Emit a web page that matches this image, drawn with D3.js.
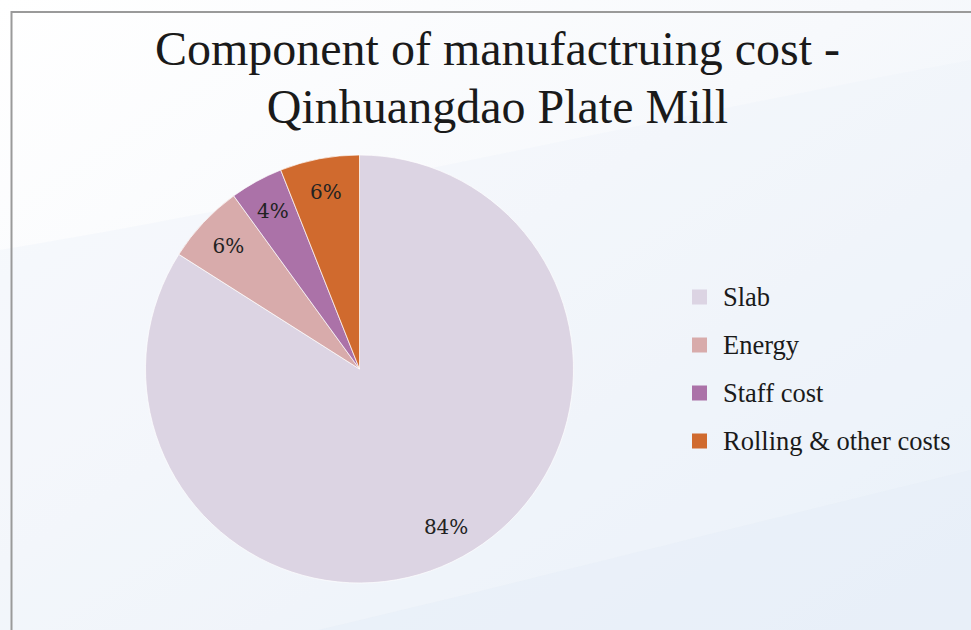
<!DOCTYPE html>
<html>
<head>
<meta charset="utf-8">
<script src="https://cdn.jsdelivr.net/npm/d3@7"></script>
<style>
  body { margin: 0; padding: 0; overflow: hidden; }
</style>
</head>
<body>
<script>
// data
const categories = ["Slab", "Energy", "Staff cost", "Rolling & other costs"];
const shares = [84, 6, 4, 6];
const colours = ["#dcd4e3", "#d8abab", "#ab72a8", "#d06a2e"];
const titleLines = ["Component of manufactruing cost -", "Qinhuangdao Plate Mill"];

const dims = { width: 971, height: 630 };
const cent = { x: 359.5, y: 369 };
const radius = 214;

const svg = d3.select("body").append("svg")
    .attr("width", dims.width)
    .attr("height", dims.height);

// background gradient
const defs = svg.append("defs");
const grad = defs.append("linearGradient")
    .attr("id", "bg")
    .attr("x1", "0%").attr("y1", "0%")
    .attr("x2", "100%").attr("y2", "100%");
grad.append("stop").attr("offset", "0%").attr("stop-color", "#ffffff");
grad.append("stop").attr("offset", "45%").attr("stop-color", "#f7f9fc");
grad.append("stop").attr("offset", "100%").attr("stop-color", "#e8f0f9");

svg.append("rect")
    .attr("width", dims.width).attr("height", dims.height)
    .attr("fill", "url(#bg)");

// soft wave bands
svg.append("path")
    .attr("d", "M0,250 C300,200 650,120 971,60 L971,630 L0,630 Z")
    .attr("fill", "#eef3f9")
    .attr("opacity", 0.4);
svg.append("path")
    .attr("d", "M0,700 C300,640 600,560 971,470 L971,630 L0,630 Z")
    .attr("fill", "#e6eef8")
    .attr("opacity", 0.5);

// frame
svg.append("rect")
    .attr("x", 11.5).attr("y", 12)
    .attr("width", dims.width + 20).attr("height", dims.height + 20)
    .attr("fill", "none")
    .attr("stroke", "#9a9a9a")
    .attr("stroke-width", 2);

const serif = "'Times New Roman', Times, 'Liberation Serif', serif";

// title
svg.append("g").selectAll("text")
    .data(titleLines)
    .join("text")
    .attr("x", 497.5)
    .attr("y", (d, i) => 65 + i * 58)
    .attr("text-anchor", "middle")
    .attr("font-family", serif)
    .attr("font-size", 48)
    .attr("fill", "#1a1a1a")
    .text(d => d);

// pie
const pie = d3.pie().sort(null).value(d => d);
const arcs = pie(shares);
const arc = d3.arc().innerRadius(0).outerRadius(radius);
const labelArc = d3.arc().innerRadius(radius * 0.84).outerRadius(radius * 0.84);

const g = svg.append("g").attr("transform", `translate(${cent.x},${cent.y})`);

g.selectAll("path")
    .data(arcs)
    .join("path")
    .attr("d", arc)
    .attr("fill", (d, i) => colours[i])
    .attr("stroke", "#ffffff")
    .attr("stroke-width", 0.7);

g.selectAll("text")
    .data(arcs)
    .join("text")
    .attr("transform", d => `translate(${labelArc.centroid(d)})`)
    .attr("text-anchor", "middle")
    .attr("dominant-baseline", "central")
    .attr("font-family", "'DejaVu Serif', 'Liberation Serif', serif")
    .attr("font-size", 20)
    .attr("fill", "#222")
    .text(d => d.data + "%");

// legend
const legend = svg.append("g").attr("transform", "translate(692, 297)");
const rows = legend.selectAll("g")
    .data(categories)
    .join("g")
    .attr("transform", (d, i) => `translate(0, ${i * 48})`);

rows.append("rect")
    .attr("x", 0).attr("y", -7.5)
    .attr("width", 15).attr("height", 15)
    .attr("fill", (d, i) => colours[i]);

rows.append("text")
    .attr("x", 31)
    .attr("y", 0)
    .attr("dominant-baseline", "central")
    .attr("font-family", serif)
    .attr("font-size", 26.5)
    .attr("fill", "#1a1a1a")
    .text(d => d);
</script>
</body>
</html>
